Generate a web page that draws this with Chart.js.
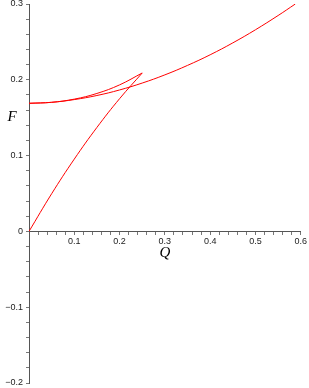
<!DOCTYPE html>
<html>
<head>
<meta charset="utf-8">
<script src="https://cdn.jsdelivr.net/npm/chart.js@4/dist/chart.umd.min.js"></script>
<style>
html,body{margin:0;padding:0;background:#fff;}
#wrap{width:309px;height:388px;position:relative;}
</style>
</head>
<body>
<div id="wrap"><canvas id="c" width="309" height="388"></canvas></div>
<script>
// Branch 1: from origin up to the cusp
const branch1Q = [0, 0.05, 0.1, 0.15, 0.2, 0.25];
const branch1F = [0, 0.0497, 0.0954, 0.1372, 0.1751, 0.209];
// Branch 2: from Q=0 up to the cusp (upper of the two close curves)
const branch2Q = [0, 0.05, 0.1, 0.15, 0.2, 0.25];
const branch2F = [0.169, 0.1703, 0.1745, 0.182, 0.1933, 0.209];
// Branch 3: from Q=0 out to the right edge
const branch3Q = [0, 0.05, 0.1, 0.15, 0.2, 0.25, 0.3, 0.35, 0.4, 0.45, 0.5, 0.55, 0.588];
const branch3F = [0.169, 0.1703, 0.1739, 0.1793, 0.1866, 0.1957, 0.2065, 0.219, 0.233, 0.2487, 0.266, 0.2848, 0.300];

const xTickLabels = ['0.1', '0.2', '0.3', '0.4', '0.5', '0.6'];
const yTickLabels = ['\u22120.2', '\u22120.1', '0', '0.1', '0.2', '0.3'];
const xTitle = 'Q';
const yTitle = 'F';

function pts(q, f) { return q.map((v, i) => ({x: v, y: f[i]})); }

const lineStyle = {
  showLine: true, borderColor: 'rgb(255,0,0)', borderWidth: 1,
  pointRadius: 0, fill: false, tension: 0.4
};

function isMajor(v) { return Math.abs(v * 10 - Math.round(v * 10)) < 1e-6; }

const titlesPlugin = {
  id: 'titles',
  afterDraw(chart) {
    const ctx = chart.ctx, xs = chart.scales.x, ys = chart.scales.y;
    ctx.save();
    ctx.fillStyle = '#000';
    ctx.font = 'italic 15px "Liberation Serif", serif';
    ctx.textAlign = 'center';
    ctx.textBaseline = 'middle';
    ctx.fillText(yTitle, xs.getPixelForValue(0) - 17, ys.getPixelForValue(0.151));
    ctx.fillText(xTitle, xs.getPixelForValue(0.3), ys.getPixelForValue(0) + 22);
    ctx.restore();
  }
};

new Chart(document.getElementById('c'), {
  type: 'scatter',
  data: {
    datasets: [
      Object.assign({data: pts(branch1Q, branch1F)}, lineStyle),
      Object.assign({data: pts(branch2Q, branch2F)}, lineStyle),
      Object.assign({data: pts(branch3Q, branch3F)}, lineStyle)
    ]
  },
  options: {
    responsive: false,
    animation: false,
    layout: {padding: {left: 0, right: 8, top: 4, bottom: 5}},
    plugins: {legend: {display: false}, tooltip: {enabled: false}},
    scales: {
      x: {
        type: 'linear', min: 0, max: 0.6,
        position: {y: 0},
        grid: {drawOnChartArea: false, drawTicks: true, tickLength: 3, color: '#777'},
        border: {display: true, color: '#555', width: 1},
        ticks: {
          stepSize: 0.02, autoSkip: false, maxRotation: 0, padding: 2,
          color: '#222', font: {family: '"Liberation Sans", Arial, sans-serif', size: 9},
          callback: (v) => {
            if (!isMajor(v)) return '';
            const k = Math.round(v * 10);
            return k >= 1 ? xTickLabels[k - 1] : '';
          }
        }
      },
      y: {
        type: 'linear', min: -0.2, max: 0.3,
        position: 'left',
        afterFit: (s) => { s.width = 29; s.paddingTop = 0; s.paddingBottom = 0; },
        grid: {drawOnChartArea: false, drawTicks: true, tickLength: 3, color: '#777'},
        border: {display: true, color: '#555', width: 1},
        ticks: {
          stepSize: 0.02, autoSkip: false, padding: 3,
          color: '#222', font: {family: '"Liberation Sans", Arial, sans-serif', size: 9},
          callback: (v) => {
            if (!isMajor(v)) return '';
            const k = Math.round(v * 10) + 2;
            return yTickLabels[k];
          }
        }
      }
    }
  },
  plugins: [titlesPlugin]
});
</script>
</body>
</html>
